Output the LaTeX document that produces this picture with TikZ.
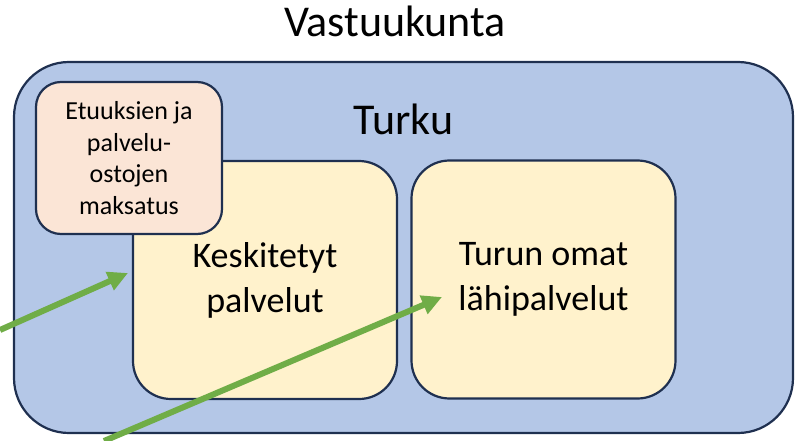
\documentclass[tikz,border=0pt]{standalone}
\usepackage{fontspec}
\setmainfont{Carlito}
\usetikzlibrary{arrows.meta}
\definecolor{outerblue}{HTML}{B4C7E7}
\definecolor{navy}{HTML}{1F3050}
\definecolor{paleyellow}{HTML}{FFF2CC}
\definecolor{palepink}{HTML}{FBE5D6}
\definecolor{arrowgreen}{HTML}{70AD47}
\begin{document}
\begin{tikzpicture}[x=1pt,y=-1pt,
		box/.style={draw=navy,line width=2.2pt,inner sep=0pt,align=center},
		unit/.style={box,fill=paleyellow,rounded corners=38pt,minimum width=264pt,minimum height=238pt,font=\fontsize{36}{45}\selectfont},
		flow/.style={draw=arrowgreen,line width=6pt,-{Triangle[length=20pt,width=19pt]}}]
		\useasboundingbox (0,0) rectangle (795,441);
		\node [anchor=base] (title) at (395,37) {\fontsize{44}{52}\selectfont Vastuukunta};
		\node [box,fill=outerblue,rounded corners=55pt,minimum width=779pt,minimum height=371pt] (turku) at (403.5,247.5) {};
		\node [anchor=base] (turkulabel) at (403.5,135) {\fontsize{44}{52}\selectfont Turku};
		\node [unit] (central) at (265,280) {Keskitetyt\\palvelut};
		\node [unit] (local) at (543.5,279.5) {Turun omat\\lähipalvelut};
		\node [box,fill=palepink,rounded corners=25pt,minimum width=186pt,minimum height=152pt,font=\fontsize{26}{31.5}\selectfont] (payment) at (129,158) {Etuuksien ja\\palvelu-\\ostojen\\maksatus};
		\coordinate (in1) at (0,330);
		\coordinate (tip1) at (128,273);
		\coordinate (in2) at (104,441);
		\coordinate (tip2) at (442,297);
		\draw [flow] (in1) -- (tip1);
		\draw [flow] (in2) -- (tip2);
	\end{tikzpicture}
\end{document}
